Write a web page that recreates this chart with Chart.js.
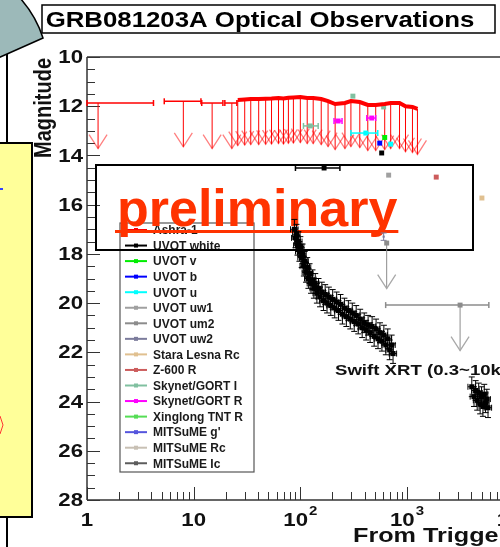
<!DOCTYPE html>
<html>
<head>
<meta charset="utf-8">
<script src="https://cdn.jsdelivr.net/npm/chart.js@4.4.1/dist/chart.umd.min.js"></script>
<style>
  html, body { margin: 0; padding: 0; background: #fff; overflow: hidden; }
  #wrap { width: 500px; height: 547px; overflow: hidden; position: relative; }
  canvas { display: block; }
</style>
</head>
<body>
<div id="wrap"><canvas id="lc" width="571" height="547"></canvas></div>
<script>
// time since trigger (s) / magnitude, one group per instrument

// Ashra-1: early exposures (limits with time bins) and continuous coverage
const ashraEarlyT   = [1.27, 8.0, 14.9, 22.8];
const ashraEarlyLo  = [1.0, 5.3, 11.9, 19.6];
const ashraEarlyHi  = [4.2, 11.7, 18.8, 25.4];
const ashraEarlyMag = [11.87, 11.80, 11.87, 11.87];

const ashraT   = [25.9, 30.1, 34.3, 40.7, 47.3, 53.7, 62.4, 69.5, 77.3, 86.1, 100, 116, 132, 157,
                  182, 212, 262, 298, 361, 429, 509, 618, 703, 851, 968, 1125, 1253];
const ashraMag = [11.75, 11.73, 11.71, 11.71, 11.70, 11.69, 11.67, 11.69, 11.66, 11.65, 11.63, 11.67,
                  11.67, 11.71, 11.79, 11.91, 11.87, 11.79, 11.83, 11.95, 11.95, 11.91, 11.87, 11.87,
                  12.00, 12.03, 12.11];

const uvotWhiteT   = [167, 579];
const uvotWhiteLo  = [90, 579];
const uvotWhiteHi  = [235, 579];
const uvotWhiteMag = [14.51, 13.90];

const uvotVT = [618];  const uvotVMag = [13.27];
const uvotBT = [555];  const uvotBMag = [13.50];

const uvotUT   = [411, 703];
const uvotULo  = [298, 703];
const uvotUHi  = [532, 703];
const uvotUMag = [13.09, 13.54];

const uvotUw1T = [673];  const uvotUw1Mag = [14.80];

// um2 upper limits
const uvotUm2T   = [645, 3145];
const uvotUm2Lo  = [645, 631];
const uvotUm2Hi  = [645, 5850];
const uvotUm2Mag = [17.56, 20.08];

const uvotUw2T = [604];  const uvotUw2Mag = [17.30];

const staraT = [5040];  const staraMag = [15.73];
const z600T  = [1880];  const z600Mag  = [14.88];

const skynetIT   = [124, 311, 604];
const skynetILo  = [107, 311, 604];
const skynetIHi  = [147, 311, 604];
const skynetIMag = [12.80, 11.59, 12.03];

const skynetRT   = [226, 467];
const skynetRLo  = [207, 420];
const skynetRHi  = [246, 509];
const skynetRMag = [12.60, 12.48];

// Swift XRT flux scaled to magnitude
const xrtT = [88, 90, 92, 94, 96, 98, 100, 103, 105, 108, 110, 113, 116, 119, 122, 126, 130, 134, 138,
              143, 148, 153, 159, 165, 171, 178, 185, 193, 201, 210, 219, 228, 238, 248, 259, 270, 282,
              294, 307, 320, 334, 349, 364, 380, 397, 414, 432, 451, 471, 492, 513, 535, 558, 582, 607,
              633, 660, 688, 718, 740,
              4050, 4250, 4400, 4550, 4700, 4850, 5000, 5150, 5300, 5450, 5600, 5750];
const xrtMag = [17.00, 17.35, 17.20, 17.65, 17.50, 17.90, 17.70, 18.15, 18.00, 18.50, 18.30, 18.75, 18.55,
                19.00, 18.80, 19.20, 19.05, 19.40, 19.20, 19.60, 19.40, 19.75, 19.55, 19.90, 19.65, 20.00,
                19.75, 20.10, 19.85, 20.20, 19.95, 20.30, 20.05, 20.45, 20.20, 20.55, 20.30, 20.65, 20.40,
                20.75, 20.50, 20.85, 20.65, 21.00, 20.80, 21.10, 20.90, 21.20, 20.95, 21.35, 21.05, 21.45,
                21.20, 21.55, 21.30, 21.70, 21.45, 21.90, 21.70, 22.05,
                23.40, 23.80, 23.55, 23.95, 23.65, 24.10, 23.80, 24.20, 23.70, 24.05, 23.90, 24.25];
const xrtMagErr = 0.4;

const yTicks      = [10, 12, 14, 16, 18, 20, 22, 24, 26, 28];
const yTickLabels = ['10', '12', '14', '16', '18', '20', '22', '24', '26', '28'];
const xTicks      = [1, 10, 100, 1000, 10000];
const xTickLabels = ['1', '10', '10^2', '10^3', '10^4'];

const LIMIT_DROP = 1.85;  // arrow length for upper limits, mag
const SX = 1.2;           // horizontal stretch of the big labels
const FONT = '"Liberation Sans", Arial, sans-serif';

const pts = (t, m) => t.map((v, i) => ({ x: v, y: m[i] }));

function series(label, color, t, mag, extra) {
  return Object.assign({
    label,
    data: pts(t, mag),
    backgroundColor: color,
    borderColor: color,
    pointBackgroundColor: color,
    pointBorderColor: color,
    pointStyle: 'rect',
    pointRadius: 3.5,
    pointBorderWidth: 0,
    showLine: false
  }, extra || {});
}

const datasets = [
  series('Ashra-1', '#ff0000', ashraT, ashraMag,
         { showLine: true, borderWidth: 4, pointRadius: 0, limit: true, headColor: 'rgba(255,0,0,0.5)' }),
  series('UVOT white', '#000000', uvotWhiteT, uvotWhiteMag, { xLo: uvotWhiteLo, xHi: uvotWhiteHi }),
  series('UVOT v', '#00ee00', uvotVT, uvotVMag),
  series('UVOT b', '#0000ff', uvotBT, uvotBMag),
  series('UVOT u', '#00ffff', uvotUT, uvotUMag, { xLo: uvotULo, xHi: uvotUHi }),
  series('UVOT uw1', '#a0a0a0', uvotUw1T, uvotUw1Mag),
  series('UVOT um2', '#8c8c8c', uvotUm2T, uvotUm2Mag,
         { xLo: uvotUm2Lo, xHi: uvotUm2Hi, limit: true, headColor: '#a8a8a8' }),
  series('UVOT uw2', '#7c7c9c', uvotUw2T, uvotUw2Mag, { pointRadius: 1.5, yErr: 0.15 }),
  series('Stara Lesna Rc', '#e0c090', staraT, staraMag),
  series('Z-600 R', '#cc5c5c', z600T, z600Mag),
  series('Skynet/GORT I', '#80c0a0', skynetIT, skynetIMag, { xLo: skynetILo, xHi: skynetIHi }),
  series('Skynet/GORT R', '#ff00ff', skynetRT, skynetRMag, { xLo: skynetRLo, xHi: skynetRHi }),
  series('Xinglong TNT R', '#55dd55', [], []),
  series("MITSuME g'", '#5555dd', [], []),
  series('MITSuME Rc', '#c8c0b4', [], []),
  series('MITSuME Ic', '#5c5c5c', [], []),
  series('', '#ff0000', ashraEarlyT, ashraEarlyMag,
         { pointRadius: 0, xLo: ashraEarlyLo, xHi: ashraEarlyHi, limit: true,
           headColor: 'rgba(255,0,0,0.5)', skipLegend: true }),
  series('', '#000000', xrtT, xrtMag,
         { pointRadius: 3.6, yErr: xrtMagErr, xRel: 0.08, skipLegend: true })
];

function wideText(ctx, text, x, y, font, align, sx) {
  ctx.save();
  ctx.font = font;
  ctx.translate(x, y);
  ctx.scale(sx, 1);
  ctx.textAlign = align;
  ctx.fillText(text, 0, 0);
  ctx.restore();
}

function seg(ctx, x1, y1, x2, y2) {
  ctx.beginPath(); ctx.moveTo(x1, y1); ctx.lineTo(x2, y2); ctx.stroke();
}

const ink = {
  id: 'ink',
  beforeDraw(chart) {
    const ctx = chart.ctx;
    ctx.save();
    ctx.fillStyle = '#fff';
    ctx.fillRect(0, 0, chart.width, chart.height);

    // slide furniture on the left
    ctx.strokeStyle = '#000';
    ctx.lineWidth = 2;
    seg(ctx, 7, 54, 7, 547);
    ctx.beginPath();
    ctx.moveTo(-2, -2); ctx.lineTo(20, -2);
    ctx.quadraticCurveTo(36, 16, 43, 38);
    ctx.lineTo(-2, 58); ctx.closePath();
    ctx.fillStyle = '#9cb9b9';
    ctx.fill();
    ctx.lineWidth = 1.5;
    ctx.stroke();

    ctx.fillStyle = '#ffff99';
    ctx.fillRect(-2, 143, 34, 374);
    ctx.lineWidth = 2;
    ctx.strokeRect(-2, 143, 34, 374);
    ctx.strokeStyle = '#3344ff';
    seg(ctx, 0, 189, 3, 189);
    ctx.strokeStyle = '#ff3333';
    ctx.lineWidth = 1;
    seg(ctx, 0, 416, 3, 425); seg(ctx, 3, 425, 0, 434);

    // title box
    ctx.fillStyle = '#fff';
    ctx.fillRect(42, 5, 453, 28);
    ctx.strokeStyle = '#000';
    ctx.lineWidth = 1.5;
    ctx.strokeRect(42, 5, 453, 28);
    ctx.fillStyle = '#000';
    ctx.textBaseline = 'alphabetic';
    wideText(ctx, 'GRB081203A Optical Observations', 260, 27, 'bold 21.5px ' + FONT, 'center', SX);
    ctx.restore();
  },

  beforeDatasetsDraw(chart) {
    const { ctx, chartArea: a, scales: { x: xs, y: ys } } = chart;
    ctx.save();

    // frame
    ctx.strokeStyle = '#333';
    ctx.lineWidth = 1.5;
    seg(ctx, a.left, a.top, a.right, a.top);
    seg(ctx, a.left, a.top, a.left, a.bottom);
    seg(ctx, a.left, a.bottom, a.right, a.bottom);

    // y ticks, drawn inward
    ctx.lineWidth = 1;
    for (let m = 10; m <= 28.001; m += 0.5) {
      const py = Math.round(ys.getPixelForValue(m)) + 0.5;
      const major = Math.abs(m / 2 - Math.round(m / 2)) < 1e-6;
      seg(ctx, a.left, py, a.left + (major ? 13 : 8), py);
    }
    // x ticks
    for (let d = 1; d <= 10000; d *= 10) {
      for (let k = 1; k <= 9; k++) {
        const v = d * k;
        if (v > xs.max) break;
        const px = Math.round(xs.getPixelForValue(v)) + 0.5;
        seg(ctx, px, a.bottom, px, a.bottom - (k === 1 ? 13 : 8));
      }
    }

    // tick labels
    ctx.fillStyle = '#111';
    ctx.textBaseline = 'middle';
    const big = 'bold 18.5px ' + FONT;
    const small = 'bold 12.5px ' + FONT;
    yTicks.forEach((v, i) => {
      wideText(ctx, yTickLabels[i], 83, ys.getPixelForValue(v) + 1, big, 'right', SX);
    });
    ctx.textBaseline = 'alphabetic';
    xTicks.forEach((v, i) => {
      const [base, sup] = xTickLabels[i].split('^');
      ctx.font = big;
      const wb = ctx.measureText(base).width * SX;
      ctx.font = small;
      const ws = sup ? ctx.measureText(sup).width * SX + 1 : 0;
      const x0 = xs.getPixelForValue(v) - (wb + ws) / 2;
      wideText(ctx, base, x0, 526, big, 'left', SX);
      if (sup) wideText(ctx, sup, x0 + wb + 1, 515, small, 'left', SX);
    });

    // axis titles
    ctx.save();
    ctx.font = 'bold 20px ' + FONT;
    ctx.translate(44, 58);
    ctx.scale(SX, 1);
    ctx.rotate(-Math.PI / 2);
    ctx.textAlign = 'right';
    ctx.textBaseline = 'middle';
    ctx.fillText('Magnitude', 0, 0);
    ctx.restore();
    wideText(ctx, 'From Trigger', 353, 542, 'bold 21px ' + FONT, 'left', SX);

    // legend
    const lx = 120, ly = 223, lw = 134, lh = 249;
    ctx.fillStyle = '#fff';
    ctx.fillRect(lx, ly, lw, lh);
    ctx.strokeStyle = '#555';
    ctx.lineWidth = 1.2;
    ctx.strokeRect(lx, ly, lw, lh);
    ctx.textBaseline = 'middle';
    chart.data.datasets.filter(ds => !ds.skipLegend).forEach((ds, i) => {
      const ry = 230 + i * 15.55;
      ctx.strokeStyle = ds.borderColor;
      ctx.lineWidth = 2;
      seg(ctx, 125, ry, 147, ry);
      ctx.fillStyle = ds.borderColor;
      ctx.fillRect(134, ry - 2, 4, 4);
      ctx.fillStyle = '#1a1a1a';
      ctx.font = 'bold 12px ' + FONT;
      ctx.textAlign = 'left';
      ctx.fillText(ds.label, 153, ry + 1);
    });

    // preliminary stamp
    ctx.strokeStyle = '#000';
    ctx.lineWidth = 2;
    ctx.strokeRect(96, 165, 377, 85);
    ctx.fillStyle = '#ff3300';
    ctx.font = 'bold 52px ' + FONT;
    ctx.textBaseline = 'alphabetic';
    ctx.textAlign = 'left';
    ctx.fillText('preliminary', 117, 226);
    const pw = ctx.measureText('preliminary').width;
    ctx.fillRect(115, 230, pw + 3, 3);

    // XRT note
    ctx.fillStyle = '#111';
    ctx.textBaseline = 'middle';
    wideText(ctx, 'Swift XRT (0.3~10keV)', 335, 371, 'bold 15.5px ' + FONT, 'left', SX);

    // error bars and upper-limit arrows
    ctx.beginPath();
    ctx.rect(a.left - 2, a.top, a.right - a.left + 2, a.bottom - a.top);
    ctx.clip();
    chart.data.datasets.forEach(ds => {
      ds.data.forEach((p, j) => {
        const px = xs.getPixelForValue(p.x);
        const py = ys.getPixelForValue(p.y);
        ctx.strokeStyle = ds.borderColor;
        ctx.lineWidth = 1;
        let lo = null, hi = null;
        if (ds.xLo) { lo = ds.xLo[j]; hi = ds.xHi[j]; }
        else if (ds.xRel) { lo = p.x * (1 - ds.xRel); hi = p.x * (1 + ds.xRel); }
        if (lo !== null && hi > lo) {
          const x1 = xs.getPixelForValue(lo), x2 = xs.getPixelForValue(hi);
          ctx.lineWidth = ds.xRel ? 1 : 1.5;
          seg(ctx, x1, py, x2, py);
          seg(ctx, x1, py - 3, x1, py + 3);
          seg(ctx, x2, py - 3, x2, py + 3);
          ctx.lineWidth = 1;
        }
        if (ds.yErr) {
          const y1 = ys.getPixelForValue(p.y - ds.yErr), y2 = ys.getPixelForValue(p.y + ds.yErr);
          seg(ctx, px, y1, px, y2);
          seg(ctx, px - 3, y1, px + 3, y1);
          seg(ctx, px - 3, y2, px + 3, y2);
        }
        if (ds.limit) {
          const tip = ys.getPixelForValue(p.y + LIMIT_DROP);
          seg(ctx, px, py, px, tip);
          ctx.strokeStyle = ds.headColor;
          ctx.lineWidth = 1.3;
          ctx.beginPath();
          ctx.moveTo(px - 9, tip - 14);
          ctx.lineTo(px, tip);
          ctx.lineTo(px + 9, tip - 14);
          ctx.stroke();
        }
      });
    });
    ctx.restore();
  }
};

new Chart(document.getElementById('lc'), {
  type: 'scatter',
  data: { datasets },
  options: {
    responsive: false,
    animation: false,
    layout: { padding: { left: 87, top: 57, right: 0, bottom: 47 } },
    plugins: { legend: { display: false }, title: { display: false }, tooltip: { enabled: false } },
    scales: {
      x: { type: 'logarithmic', min: 1, max: 31623, display: false },
      y: { type: 'linear', min: 10, max: 28, reverse: true, display: false }
    },
    elements: { line: { tension: 0 } }
  },
  plugins: [ink]
});
</script>
</body>
</html>
